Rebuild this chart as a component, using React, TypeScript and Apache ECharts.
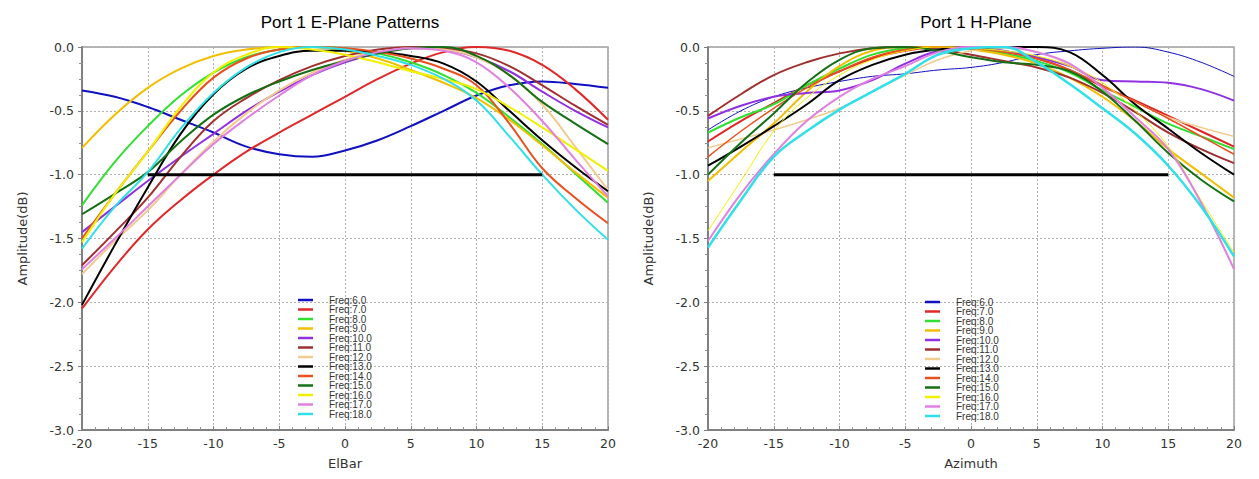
import React, { useEffect, useRef } from "react";
import * as echarts from "echarts";

const angles = [-20, -17.5, -15, -12.5, -10, -7.5, -5, -2.5, 0, 2.5, 5, 7.5, 10, 12.5, 15, 17.5, 20];
const freqNames = ["Freq:6.0", "Freq:7.0", "Freq:8.0", "Freq:9.0", "Freq:10.0", "Freq:11.0", "Freq:12.0", "Freq:13.0", "Freq:14.0", "Freq:15.0", "Freq:16.0", "Freq:17.0", "Freq:18.0"];
const freqColors = ["#1010C0", "#E02828", "#30E030", "#F2BE00", "#9030E0", "#A03030", "#F0CC90", "#000000", "#E85020", "#157015", "#F0F000", "#E080E0", "#30E0E8"];
const hWidths = [1, 2, 2, 2, 2, 2, 1.5, 2, 1.5, 2, 1, 2, 2.5];

// E-plane amplitudes (dB) at the angles above
const e6 = [-0.34, -0.39, -0.47, -0.57, -0.67, -0.78, -0.84, -0.86, -0.81, -0.73, -0.62, -0.50, -0.38, -0.30, -0.27, -0.29, -0.32];
const e7 = [-2.05, -1.72, -1.43, -1.20, -1.00, -0.82, -0.67, -0.53, -0.39, -0.25, -0.13, -0.04, 0.0, -0.03, -0.14, -0.33, -0.57];
const e8 = [-1.24, -0.90, -0.62, -0.38, -0.20, -0.08, -0.02, 0.0, -0.01, -0.05, -0.12, -0.22, -0.36, -0.55, -0.76, -0.99, -1.22];
const e9 = [-0.79, -0.53, -0.32, -0.17, -0.07, -0.02, 0.0, 0.0, -0.03, -0.09, -0.18, -0.28, -0.40, -0.57, -0.77, -0.98, -1.18];
const e10 = [-1.45, -1.25, -1.05, -0.86, -0.68, -0.50, -0.35, -0.22, -0.12, -0.05, -0.01, -0.02, -0.08, -0.19, -0.35, -0.50, -0.63];
const e11 = [-1.71, -1.45, -1.18, -0.86, -0.58, -0.40, -0.26, -0.15, -0.07, -0.02, 0.0, -0.01, -0.05, -0.15, -0.30, -0.46, -0.61];
const e12 = [-1.78, -1.52, -1.28, -1.00, -0.74, -0.52, -0.34, -0.20, -0.10, -0.04, -0.01, -0.02, -0.08, -0.22, -0.45, -0.78, -1.12];
const e13 = [-2.02, -1.55, -1.10, -0.68, -0.37, -0.17, -0.07, -0.03, -0.03, -0.04, -0.07, -0.13, -0.27, -0.50, -0.73, -0.94, -1.13];
const e14 = [-1.50, -1.15, -0.82, -0.50, -0.24, -0.09, -0.02, 0.0, -0.01, -0.04, -0.09, -0.17, -0.30, -0.60, -0.95, -1.18, -1.38];
const e15 = [-1.31, -1.15, -0.98, -0.74, -0.53, -0.38, -0.27, -0.18, -0.11, -0.05, -0.01, 0.0, -0.07, -0.22, -0.43, -0.60, -0.76];
const e16 = [-1.53, -1.15, -0.82, -0.47, -0.20, -0.06, 0.0, -0.02, -0.06, -0.12, -0.19, -0.25, -0.33, -0.47, -0.63, -0.80, -0.97];
const e17 = [-1.74, -1.50, -1.25, -1.00, -0.76, -0.56, -0.38, -0.22, -0.11, -0.04, -0.01, -0.03, -0.12, -0.32, -0.58, -0.88, -1.17];
const e18 = [-1.58, -1.25, -0.98, -0.64, -0.36, -0.16, -0.04, 0.0, -0.02, -0.07, -0.14, -0.25, -0.42, -0.70, -1.00, -1.27, -1.51];

// H-plane amplitudes (dB) at the angles above
const h6 = [-0.65, -0.50, -0.39, -0.32, -0.27, -0.23, -0.21, -0.18, -0.16, -0.12, -0.06, -0.03, -0.01, 0.0, -0.04, -0.12, -0.23];
const h7 = [-0.74, -0.58, -0.44, -0.30, -0.19, -0.09, -0.03, 0.0, -0.01, -0.04, -0.09, -0.18, -0.31, -0.42, -0.54, -0.66, -0.78];
const h8 = [-0.67, -0.55, -0.45, -0.30, -0.17, -0.06, -0.01, 0.0, -0.01, -0.05, -0.11, -0.20, -0.34, -0.47, -0.60, -0.70, -0.80];
const h9 = [-1.05, -0.82, -0.60, -0.35, -0.15, -0.03, 0.0, 0.0, -0.02, -0.06, -0.13, -0.24, -0.39, -0.58, -0.80, -0.99, -1.18];
const h10 = [-0.56, -0.46, -0.39, -0.36, -0.34, -0.26, -0.13, -0.03, 0.0, -0.03, -0.08, -0.15, -0.26, -0.27, -0.28, -0.33, -0.42];
const h11 = [-0.54, -0.37, -0.22, -0.12, -0.05, -0.01, 0.0, -0.02, -0.06, -0.11, -0.16, -0.24, -0.36, -0.51, -0.67, -0.80, -0.91];
const h12 = [-0.79, -0.72, -0.65, -0.57, -0.48, -0.35, -0.22, -0.10, -0.03, -0.01, -0.04, -0.14, -0.30, -0.43, -0.55, -0.63, -0.70];
const h13 = [-0.93, -0.78, -0.62, -0.45, -0.26, -0.14, -0.06, -0.02, -0.01, 0.0, 0.0, -0.04, -0.22, -0.45, -0.64, -0.83, -1.00];
const h14 = [-0.86, -0.66, -0.48, -0.32, -0.19, -0.08, -0.02, 0.0, -0.01, -0.04, -0.09, -0.18, -0.30, -0.43, -0.56, -0.70, -0.84];
const h15 = [-1.00, -0.75, -0.52, -0.28, -0.10, -0.01, 0.0, -0.03, -0.08, -0.12, -0.14, -0.19, -0.35, -0.58, -0.83, -1.04, -1.21];
const h16 = [-1.44, -1.05, -0.66, -0.40, -0.22, -0.10, -0.03, 0.0, -0.01, -0.03, -0.07, -0.15, -0.28, -0.50, -0.78, -1.20, -1.61];
const h17 = [-1.52, -1.15, -0.84, -0.58, -0.39, -0.25, -0.15, -0.04, 0.0, 0.0, -0.04, -0.13, -0.32, -0.55, -0.80, -1.22, -1.74];
const h18 = [-1.57, -1.20, -0.86, -0.66, -0.49, -0.35, -0.21, -0.06, -0.01, 0.0, -0.12, -0.29, -0.48, -0.68, -0.93, -1.25, -1.64];

const ePlane = [e6, e7, e8, e9, e10, e11, e12, e13, e14, e15, e16, e17, e18];
const hPlane = [h6, h7, h8, h9, h10, h11, h12, h13, h14, h15, h16, h17, h18];

const refLineX = [-15, 15];
const refLineY = [-1.0, -1.0];

const xTickStep = 5;
const yTickStep = 0.5;

const FONT = "DejaVu Sans";

function makeAxes(gridIndex: number, xName: string) {
  const x = {
    type: "value",
    gridIndex,
    min: -20,
    max: 20,
    interval: xTickStep,
    name: xName,
    nameLocation: "middle",
    nameGap: 27,
    nameTextStyle: { fontFamily: FONT, fontSize: 13, color: "#333" },
    axisLine: { show: true, onZero: false, lineStyle: { color: "#808080", width: 2 } },
    axisTick: { show: true, inside: true, length: 4, lineStyle: { color: "#808080" } },
    minorTick: { show: true, splitNumber: 5, length: 3, lineStyle: { color: "#909090" } },
    axisLabel: { fontFamily: FONT, fontSize: 12.5, color: "#333", margin: 7 },
    splitLine: { show: true, lineStyle: { color: "#b0b0b0", type: [2, 2], width: 1 } },
  };
  const y = {
    type: "value",
    gridIndex,
    min: -3,
    max: 0,
    interval: yTickStep,
    name: "Amplitude(dB)",
    nameLocation: "middle",
    nameGap: 53,
    nameTextStyle: { fontFamily: FONT, fontSize: 13, color: "#333" },
    axisLine: { show: true, onZero: false, lineStyle: { color: "#808080", width: 2 } },
    axisTick: { show: true, inside: false, length: 4, lineStyle: { color: "#808080" } },
    minorTick: { show: true, splitNumber: 4, length: 3, lineStyle: { color: "#909090" } },
    axisLabel: {
      fontFamily: FONT,
      fontSize: 12.5,
      color: "#333",
      margin: 8,
      formatter: (v: number) => v.toFixed(1),
    },
    splitLine: { show: true, lineStyle: { color: "#b0b0b0", type: [2, 2], width: 1 } },
  };
  return { x, y };
}

export default function App() {
  const ref = useRef<HTMLDivElement>(null);
  useEffect(() => {
    if (!ref.current) return;
    const chart = echarts.init(ref.current, null, { renderer: "svg" });
    const a0 = makeAxes(0, "ElBar");
    const a1 = makeAxes(1, "Azimuth");

    const series: any[] = [];
    const build = (planes: number[][], idx: number, widths: number[] | null) => {
      planes.forEach((vals, i) => {
        series.push({
          type: "line",
          name: freqNames[i],
          xAxisIndex: idx,
          yAxisIndex: idx,
          data: angles.map((a, k) => [a, vals[k]]),
          smooth: 0.4,
          symbol: "none",
          clip: true,
          itemStyle: { color: freqColors[i] },
          lineStyle: { color: freqColors[i], width: widths ? widths[i] : 2 },
          z: 2,
        });
      });
      series.push({
        type: "line",
        name: "ref" + idx,
        xAxisIndex: idx,
        yAxisIndex: idx,
        data: refLineX.map((a, k) => [a, refLineY[k]]),
        symbol: "none",
        itemStyle: { color: "#000" },
        lineStyle: { color: "#000", width: 3 },
        z: 3,
      });
    };
    build(ePlane, 0, null);
    build(hPlane, 1, hWidths);

    const legendCommon = {
      orient: "vertical",
      itemGap: -0.5,
      itemWidth: 15,
      itemHeight: 2.5,
      icon: "rect",
      padding: 0,
      data: freqNames,
      selectedMode: false,
      textStyle: {
        fontFamily: "Liberation Sans",
        fontSize: 10,
        lineHeight: 9.6,
        color: "#333",
        padding: [0, 0, 0, 11],
      },
    };

    chart.setOption({
      animation: false,
      backgroundColor: "#ffffff",
      title: [
        {
          text: "Port 1 E-Plane Patterns",
          left: 345,
          textAlign: "center",
          top: 9,
          textStyle: { fontFamily: "Liberation Sans", fontSize: 17, fontWeight: "normal", color: "#000" },
        },
        {
          text: "Port 1 H-Plane",
          left: 971,
          textAlign: "center",
          top: 9,
          textStyle: { fontFamily: "Liberation Sans", fontSize: 17, fontWeight: "normal", color: "#000" },
        },
      ],
      legend: [
        { ...legendCommon, left: 298, top: 295 },
        { ...legendCommon, left: 925, top: 297 },
      ],
      grid: [
        { left: 82, top: 47, width: 526, height: 383, show: true, borderColor: "#a0a0a0", borderWidth: 1.5, backgroundColor: "#fff" },
        { left: 708, top: 47, width: 526, height: 383, show: true, borderColor: "#a0a0a0", borderWidth: 1.5, backgroundColor: "#fff" },
      ],
      xAxis: [a0.x, a1.x],
      yAxis: [a0.y, a1.y],
      series,
    });
    return () => chart.dispose();
  }, []);
  return <div ref={ref} style={{ position: "fixed", left: 0, top: 0, width: 1259, height: 479 }} />;
}
